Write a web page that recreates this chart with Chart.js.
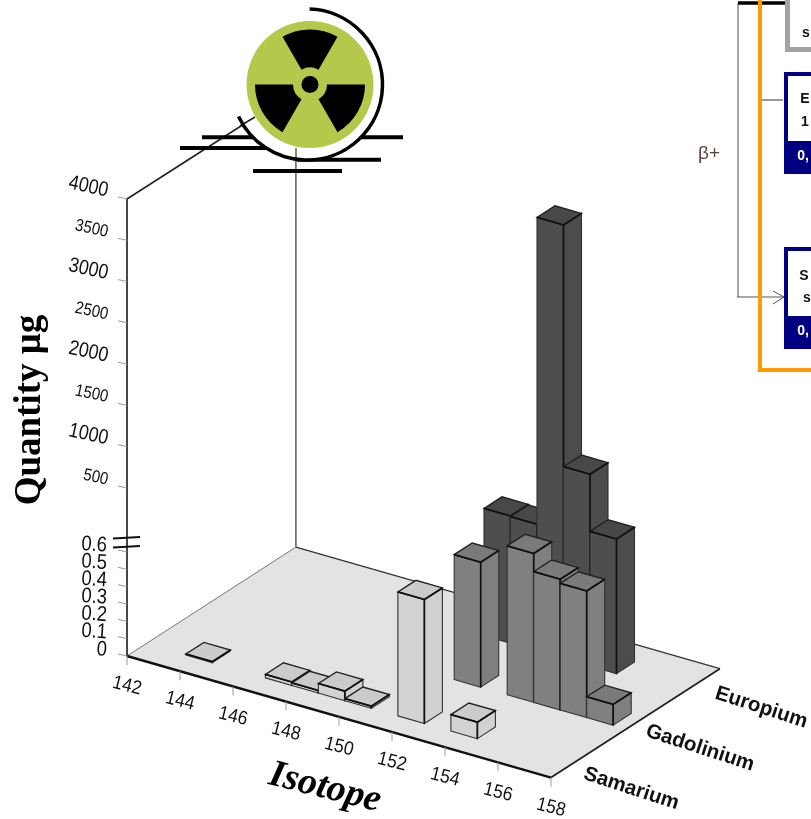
<!DOCTYPE html>
<html lang="en">
<head>
<meta charset="UTF-8">
<title>Isotope quantities</title>
<script src="https://cdn.jsdelivr.net/npm/chart.js"></script>
<style>
    html, body { margin: 0; padding: 0; background: #fff; overflow: hidden; }
    canvas { display: block; }
</style>
</head>
<body>
<canvas id="chart" width="811" height="819"></canvas>
<script>
const seriesNames = ["Samarium", "Gadolinium", "Europium"];
const samariumIsotopes = [144, 147, 148, 149, 150, 152, 154];
const samariumValues = [0.006, 0.02, 0.015, 0.055, 0.012, 156, 0.095];
const gadoliniumIsotopes = [152, 154, 155, 156, 157];
const gadoliniumValues = [164, 351, 209, 177, 0.12];
const europiumIsotopes = [151, 152, 153, 154, 155];
const europiumValues = [182, 177, 3715, 788, 240];
const isotopeTicks = [142, 144, 146, 148, 150, 152, 154, 156, 158];
const quantityTicks = [0, 0.1, 0.2, 0.3, 0.4, 0.5, 0.6, 500, 1000, 1500, 2000, 2500, 3000, 3500, 4000];

const SANS = '"Liberation Sans", Arial, sans-serif';
const SERIF = '"Liberation Serif", "Times New Roman", serif';

// floor depth per series row, and how far the floor drops per px along x
const ROW_DX = 56.3, ROW_DY = 36.3, SLOPE = 7.6 / 26.5;
const BAR_FRONT = 0.34, BAR_BACK = 0.66;

// y axis with a break: 0-0.6 gets its own stretch, then 500-4000 is compressed
class BrokenScale extends Chart.LinearScale {
    getPixelForValue(v) {
        const h = this.bottom - this.top;
        let f;
        if (v <= 0.6) f = (v / 0.6) * 0.2276;
        else if (v <= 500) f = 0.2276 + ((v - 0.6) / 499.4) * 0.14;
        else f = 0.3676 + ((v - 500) / 3500) * 0.6324;
        return this.bottom - f * h;
    }
}
BrokenScale.id = "brokenLinear";
BrokenScale.defaults = Chart.LinearScale.defaults;
Chart.register(BrokenScale);

function pt(chart, iso, row, q) {
    const x = chart.scales.x.getPixelForValue(iso);
    const y = chart.scales.y.getPixelForValue(q);
    return [x + row * ROW_DX, y + (x - chart.scales.x.left) * SLOPE - row * ROW_DY];
}

function poly(ctx, pts, fill, stroke, width) {
    ctx.beginPath();
    pts.forEach((p, i) => i ? ctx.lineTo(p[0], p[1]) : ctx.moveTo(p[0], p[1]));
    ctx.closePath();
    if (fill) { ctx.fillStyle = fill; ctx.fill(); }
    if (stroke) { ctx.strokeStyle = stroke; ctx.lineWidth = width; ctx.stroke(); }
}

function line(ctx, x1, y1, x2, y2, color, width) {
    ctx.beginPath();
    ctx.moveTo(x1, y1);
    ctx.lineTo(x2, y2);
    ctx.strokeStyle = color;
    ctx.lineWidth = width;
    ctx.stroke();
}

// stretch: the source axis text is taller than normal type, so it gets pulled vertically
function label(ctx, text, x, y, font, angle, align, color, stretch) {
    ctx.save();
    ctx.translate(x, y);
    ctx.rotate(angle * Math.PI / 180);
    if (stretch) ctx.scale(1, stretch);
    ctx.font = font;
    ctx.textAlign = align || "center";
    ctx.textBaseline = "middle";
    ctx.fillStyle = color || "#111";
    ctx.fillText(text, 0, 0);
    ctx.restore();
}

const floorPlugin = {
    id: "floor",
    beforeDatasetsDraw(chart) {
        const ctx = chart.ctx;
        const a = pt(chart, 142, 0, 0), b = pt(chart, 158, 0, 0);
        const c = pt(chart, 158, 3, 0), d = pt(chart, 142, 3, 0);
        poly(ctx, [a, b, c, d], "#e3e3e3");
        line(ctx, d[0], d[1], a[0], a[1], "#777", 1);
        line(ctx, d[0], d[1], c[0], c[1], "#333", 1.3);
        line(ctx, b[0], b[1], c[0], c[1], "#222", 1.8);
        line(ctx, a[0], a[1], b[0], b[1], "#111", 2.4);
        // walls
        const top = chart.scales.y.getPixelForValue(4000);
        line(ctx, a[0], a[1], a[0], top, "#333", 1.8);
        line(ctx, d[0], d[1], d[0], 148, "#666", 1.6);
        line(ctx, a[0], top, 255, 117, "#222", 1.6);

        isotopeTicks.forEach(t => {
            const p = pt(chart, t, 0, 0);
            line(ctx, p[0], p[1], p[0], p[1] + 9, "#999", 1);
            label(ctx, String(t), p[0], p[1] + 30, "17.5px " + SANS, 14, "center", "#111", 1.1);
        });
        quantityTicks.forEach(q => {
            const y = chart.scales.y.getPixelForValue(q);
            line(ctx, a[0] - 9, y - 2, a[0], y, "#999", 1);
            if (q >= 500) {
                const size = q % 1000 === 0 ? 18 : 15;
                label(ctx, String(q), 108, y - 8, size + "px " + SANS, 12, "right", "#111", 1.15);
            } else {
                label(ctx, String(q), 107, y - 6, "18.5px " + SANS, 4, "right", "#111", 1.15);
            }
        });
        // axis break marks
        line(ctx, 113, 538.5, 140, 537, "#111", 2);
        line(ctx, 113, 547.5, 140, 546, "#111", 2);
    }
};

const barsPlugin = {
    id: "bars3d",
    afterDatasetsDraw(chart) {
        const ctx = chart.ctx;
        // back row first, left to right inside a row so the overlaps come out right
        for (let r = chart.data.datasets.length - 1; r >= 0; r--) {
            const ds = chart.data.datasets[r];
            ds.data.forEach(v => {
                const x0 = v.x - 0.5, x1 = v.x + 0.5, d0 = r + BAR_FRONT, d1 = r + BAR_BACK;
                const fl = pt(chart, x0, d0, 0), fr = pt(chart, x1, d0, 0), br = pt(chart, x1, d1, 0);
                const tfl = pt(chart, x0, d0, v.y), tfr = pt(chart, x1, d0, v.y);
                const tbr = pt(chart, x1, d1, v.y), tbl = pt(chart, x0, d1, v.y);
                poly(ctx, [fl, fr, tfr, tfl], ds.faceColor, "#333", 1.1);
                poly(ctx, [fr, br, tbr, tfr], ds.sideColor, "#333", 1.1);
                poly(ctx, [tfl, tfr, tbr, tbl], ds.topColor, "#222", 1.4);
                line(ctx, fr[0], fr[1], tfr[0], tfr[1], "#111", 1.7);
                line(ctx, tfl[0], tfl[1], tfr[0], tfr[1], "#111", 1.7);
                line(ctx, tfr[0], tfr[1], tbr[0], tbr[1], "#111", 1.7);
            });
        }
    }
};

const textPlugin = {
    id: "annotations",
    afterDraw(chart) {
        const ctx = chart.ctx;
        const rowOffset = [[2, 8], [8, 1.5], [21, 0]];
        seriesNames.forEach((name, i) => {
            const p = pt(chart, 158, i + 0.5, 0);
            const o = rowOffset[i];
            label(ctx, name, p[0] + o[0] + 3, p[1] + o[1] + 6, "bold 20.5px " + SANS, 18, "left", "#111");
        });
        label(ctx, "Isotope", 325, 788, "italic bold 38px " + SERIF, 14, "center", "#000");
        label(ctx, "Quantity μg", 30, 410, "bold 37px " + SERIF, -90, "center", "#000");

        drawBadge(ctx);
        drawCornerDiagram(ctx);
    }
};

// radiation badge sitting on top of the axis wall
function drawBadge(ctx) {
    const cx = 310, cy = 84.5;
    line(ctx, 202, 137.3, 403, 137.3, "#000", 4);
    line(ctx, 180, 148, 300, 148, "#000", 4);
    line(ctx, 297, 159.7, 381, 159.7, "#000", 4);
    line(ctx, 253, 171, 342, 171, "#000", 4);

    ctx.beginPath();
    ctx.arc(307, 84.5, 75, 0, Math.PI * 2);
    ctx.fillStyle = "#fff";
    ctx.fill();

    line(ctx, 240, 126, 255, 117, "#222", 1.6);
    line(ctx, 296, 148, 296, 159, "#666", 1.6);

    ctx.beginPath();
    ctx.arc(307, 84.5, 75.5, -88 * Math.PI / 180, 155 * Math.PI / 180);
    ctx.strokeStyle = "#000";
    ctx.lineWidth = 3.5;
    ctx.stroke();

    ctx.beginPath();
    ctx.arc(cx, cy, 63.5, 0, Math.PI * 2);
    ctx.fillStyle = "#b5c84c";
    ctx.fill();

    [[-120, -60], [0, 60], [120, 180]].forEach(a => {
        const s = a[0] * Math.PI / 180, e = a[1] * Math.PI / 180;
        ctx.beginPath();
        ctx.arc(cx, cy, 55, s, e);
        ctx.arc(cx, cy, 17, e, s, true);
        ctx.closePath();
        ctx.fillStyle = "#000";
        ctx.fill();
    });
    ctx.beginPath();
    ctx.arc(cx, cy, 8.5, 0, Math.PI * 2);
    ctx.fillStyle = "#000";
    ctx.fill();
}

// cropped decay scheme in the top right corner
function drawCornerDiagram(ctx) {
    ctx.fillStyle = "#a3a3a3";
    ctx.fillRect(785, 0, 26, 52);
    ctx.fillStyle = "#fff";
    ctx.fillRect(790, 0, 21, 47);
    label(ctx, "s", 806, 33, "bold 14px " + SANS, 0, "center", "#111");

    line(ctx, 738, 3, 738, 297, "#8a8a8a", 1.5);
    line(ctx, 737, 297, 784, 297, "#555", 1.2);
    line(ctx, 773, 291, 784, 297, "#555", 1);
    line(ctx, 773, 304, 784, 297, "#555", 1);
    line(ctx, 762, 100, 783, 100, "#555", 1.2);
    line(ctx, 738, 3, 785, 3, "#000", 3.5);

    [72, 247].forEach(y => {
        ctx.fillStyle = "#000080";
        ctx.fillRect(784, y, 27, 102);
        ctx.fillStyle = "#fff";
        ctx.fillRect(788, y + 4, 23, 65);
    });
    label(ctx, "E", 805, 99, "bold 14px " + SANS, 0, "center", "#111");
    label(ctx, "1", 805, 122, "bold 14px " + SANS, 0, "center", "#111");
    label(ctx, "0,", 803, 156, "bold 14px " + SANS, 0, "center", "#fff");
    label(ctx, "S", 804, 276, "bold 14px " + SANS, 0, "center", "#111");
    label(ctx, "s", 807, 298, "bold 14px " + SANS, 0, "center", "#111");
    label(ctx, "0,", 803, 331, "bold 14px " + SANS, 0, "center", "#fff");

    label(ctx, "β+", 709, 154, "19px " + SANS, 0, "center", "#5a4638");

    ctx.strokeStyle = "#ff9b00";
    ctx.lineWidth = 4;
    ctx.beginPath();
    ctx.moveTo(760, 0);
    ctx.lineTo(760, 370);
    ctx.lineTo(811, 370);
    ctx.stroke();
}

function toPoints(xs, ys) {
    return xs.map((x, i) => ({ x: x, y: ys[i] }));
}

new Chart(document.getElementById("chart").getContext("2d"), {
    type: "scatter",
    data: {
        datasets: [
            { label: seriesNames[0], data: toPoints(samariumIsotopes, samariumValues), pointRadius: 0,
              faceColor: "#d3d3d3", sideColor: "#d1d1d1", topColor: "#cbcbcb" },
            { label: seriesNames[1], data: toPoints(gadoliniumIsotopes, gadoliniumValues), pointRadius: 0,
              faceColor: "#808080", sideColor: "#7f7f7f", topColor: "#7a7a7a" },
            { label: seriesNames[2], data: toPoints(europiumIsotopes, europiumValues), pointRadius: 0,
              faceColor: "#4e4e4e", sideColor: "#4c4c4c", topColor: "#484848" }
        ]
    },
    options: {
        responsive: false,
        animation: false,
        layout: { padding: { left: 127, right: 260, top: 199, bottom: 163 } },
        plugins: { legend: { display: false }, tooltip: { enabled: false } },
        scales: {
            x: { type: "linear", min: 142, max: 158, display: false },
            y: { type: "brokenLinear", min: 0, max: 4000, display: false }
        }
    },
    plugins: [floorPlugin, barsPlugin, textPlugin]
});
</script>
</body>
</html>
